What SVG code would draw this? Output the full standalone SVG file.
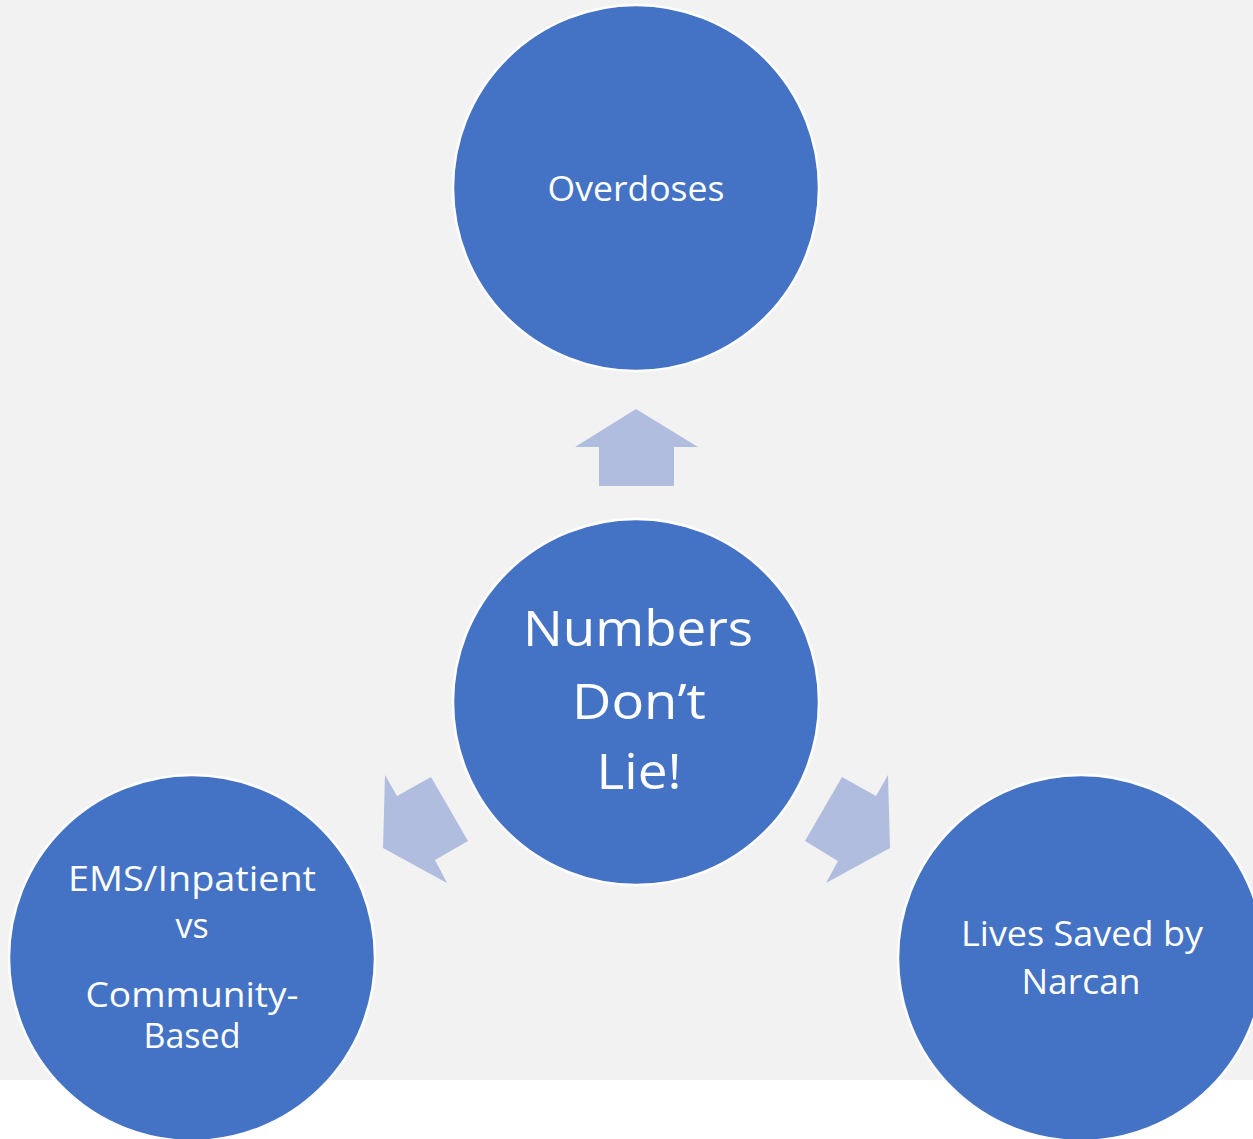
<svg xmlns="http://www.w3.org/2000/svg" width="1253" height="1139" viewBox="0 0 1253 1139">
<style>
.node{fill:#4472c4;stroke:#ffffff;stroke-width:2.5}
.arrow{fill:#b0bddf}
.t{font-family:"Open Sans","Noto Sans",sans-serif;fill:#ffffff;text-anchor:middle}
.s{font-size:34px}
.b{font-size:50px}
</style>
<rect x="0" y="0" width="1253" height="1139" fill="#ffffff"/>
<rect x="0" y="0" width="1253" height="1080" fill="#f2f2f2"/>
<g id="connectors">
<polygon class="arrow" points="636,409 698,447 674,447 674,486 599,486 599,447 575,447"/>
<polygon class="arrow" points="385,775 397,796 431,777 468,841 435,860 447,883 383,848"/>
<polygon class="arrow" points="888,775 876,796 842,777 805,841 838,861 826,883 890,848"/>
</g>
<g id="node-overdoses">
<circle class="node" cx="636" cy="188" r="183"/>
<text class="t s" x="636" y="200.5" textLength="177" lengthAdjust="spacingAndGlyphs">Overdoses</text>
</g>
<g id="node-center">
<circle class="node" cx="636" cy="702" r="183"/>
<text class="t b" x="638" y="646" textLength="230" lengthAdjust="spacingAndGlyphs">Numbers</text>
<text class="t b" x="639" y="719" textLength="134" lengthAdjust="spacingAndGlyphs">Don’t</text>
<text class="t b" x="639" y="789" textLength="85" lengthAdjust="spacingAndGlyphs">Lie!</text>
</g>
<g id="node-ems">
<circle class="node" cx="192" cy="958" r="183"/>
<text class="t s" x="192" y="890.5" textLength="248" lengthAdjust="spacingAndGlyphs">EMS/Inpatient</text>
<text class="t s" x="192" y="938">vs</text>
<text class="t s" x="192" y="1007" textLength="213" lengthAdjust="spacingAndGlyphs">Community-</text>
<text class="t s" x="192" y="1048">Based</text>
</g>
<g id="node-narcan">
<circle class="node" cx="1081" cy="958" r="183"/>
<text class="t s" x="1082" y="945.5" textLength="242" lengthAdjust="spacingAndGlyphs">Lives Saved by</text>
<text class="t s" x="1081" y="994" textLength="119" lengthAdjust="spacingAndGlyphs">Narcan</text>
</g>
</svg>
